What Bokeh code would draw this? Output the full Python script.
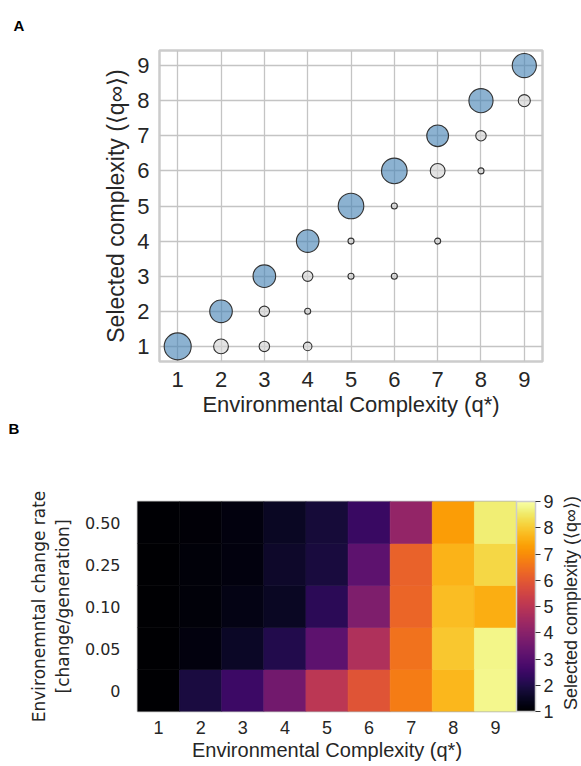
from bokeh.embed import file_html
from bokeh.layouts import row
from bokeh.models import (ColorBar, ColumnDataSource, Div, FixedTicker,
                          LinearColorMapper, Range1d, Title)
from bokeh.palettes import Inferno256
from bokeh.plotting import figure
from bokeh.resources import INLINE
from bokeh.transform import transform

# ---------------------------------------------------------------------------
# Panel A: distribution of the selected complexity for each environment
# ---------------------------------------------------------------------------
env_q = [1, 2, 2, 3, 3, 3, 4, 4, 4, 4, 5, 5, 5, 6, 6, 6, 7, 7, 7, 8, 8, 8, 9, 9]
sel_q = [1, 2, 1, 3, 2, 1, 4, 3, 2, 1, 5, 4, 3, 6, 5, 3, 7, 6, 4, 8, 7, 6, 9, 8]
freq = [1.0, 0.7, 0.3, 0.7, 0.15, 0.15, 0.7, 0.15, 0.05, 0.1, 0.9, 0.05, 0.05,
        0.9, 0.05, 0.05, 0.65, 0.3, 0.05, 0.8, 0.15, 0.05, 0.8, 0.2]

# ---------------------------------------------------------------------------
# Panel B: mean selected complexity vs. environmental complexity and change rate
# ---------------------------------------------------------------------------
q_star = [1, 2, 3, 4, 5, 6, 7, 8, 9]
rate_labels = ["0", "0.05", "0.10", "0.25", "0.50"]
mean_q_rate_0 = [1.0, 1.9, 2.5, 3.55, 5.0, 5.9, 6.7, 7.7, 8.8]
mean_q_rate_005 = [1.0, 1.2, 1.55, 2.05, 3.15, 4.75, 6.5, 7.95, 8.75]
mean_q_rate_010 = [1.0, 1.15, 1.3, 1.5, 2.2, 3.8, 6.25, 7.8, 7.55]
mean_q_rate_025 = [1.0, 1.15, 1.2, 1.6, 1.85, 3.15, 6.2, 7.65, 8.2]
mean_q_rate_050 = [1.05, 1.1, 1.2, 1.5, 1.8, 2.45, 4.2, 7.25, 8.6]

TEXT = "#262626"
SANS = "Liberation Sans"

# ----------------------------- panel A -------------------------------------
A_W, A_H = 581, 441
A_LEFT, A_RIGHT, A_TOP, A_BOTTOM = 159, 542, 50, 361

pa = figure(width=A_W, height=A_H, output_backend="svg", toolbar_location=None,
            x_range=Range1d(0.58, 9.42), y_range=Range1d(0.57, 9.43),
            min_border_left=A_LEFT, min_border_right=A_W - A_RIGHT,
            min_border_top=A_TOP, min_border_bottom=A_H - A_BOTTOM)
pa.outline_line_color = "#cccccc"
pa.outline_line_width = 2.5

# panel letter "A" sits in the title slot, pushed to the left page edge
pa.title.text = "A"
pa.title.text_font = SANS
pa.title.text_font_size = "15px"
pa.title.text_font_style = "bold"
pa.title.text_color = "black"
pa.title.align = "left"
pa.title.offset = 13 - A_LEFT
pa.title.vertical_align = "top"
pa.title.standoff = 30

ticks = list(range(1, 10))
for g in (pa.xgrid, pa.ygrid):
    g.ticker = FixedTicker(ticks=ticks)
    g.grid_line_color = "#c4c4c4"
    g.grid_line_width = 1.3
for ax in (pa.xaxis, pa.yaxis):
    ax.ticker = FixedTicker(ticks=ticks)
    ax.axis_line_color = None
    ax.major_tick_line_color = None
    ax.minor_tick_line_color = None
    ax.major_tick_out = 0
    ax.major_tick_in = 0
    ax.major_label_standoff = 10
    ax.major_label_text_font = SANS
    ax.major_label_text_font_size = "22px"
    ax.major_label_text_color = TEXT
    ax.axis_label_text_font = SANS
    ax.axis_label_text_font_style = "normal"
    ax.axis_label_text_color = TEXT
    ax.axis_label_standoff = 2
pa.xaxis.axis_label = "Environmental Complexity (q*)"
pa.xaxis.axis_label_text_font_size = "22px"
pa.yaxis.axis_label = "Selected complexity (⟨q∞⟩)"
pa.yaxis.axis_label_text_font_size = "23px"
pa.yaxis.axis_label_standoff = 5

# the most frequent outcome of each environment is highlighted in blue
col_max = {}
for e, f in zip(env_q, freq):
    col_max[e] = max(col_max.get(e, 0.0), f)
is_mode = [f == col_max[e] for e, f in zip(env_q, freq)]
src_a = ColumnDataSource(dict(
    x=env_q, y=sel_q, freq=freq,
    size=[27 * f ** 0.5 for f in freq],
    fill=["steelblue" if m else "lightgray" for m in is_mode],
))
pa.scatter("x", "y", size="size", source=src_a, fill_color="fill",
           fill_alpha=0.62, line_color="#333333", line_width=1.1)

# panel letter "B" hangs below the x axis of the upper figure
pa.add_layout(Title(text="B", text_font=SANS, text_font_size="15px",
                    text_font_style="bold", text_color="black", align="left",
                    offset=8 - A_LEFT, vertical_align="top", standoff=0),
              "below")

# ----------------------------- panel B -------------------------------------
B_W, B_H = 561, 325
B_LEFT, B_RIGHT, B_TOP, B_BOTTOM = 137, 516, 60, 270
CAP_W = 581 - B_W

rows = [mean_q_rate_0, mean_q_rate_005, mean_q_rate_010,
        mean_q_rate_025, mean_q_rate_050]
cx, cy, cv = [], [], []
for r, vals in enumerate(rows):
    for q, v in zip(q_star, vals):
        cx.append(q)
        cy.append(r)
        cv.append(v)
src_b = ColumnDataSource(dict(x=cx, y=cy, v=cv))

mapper = LinearColorMapper(palette=Inferno256, low=1, high=9)

pb = figure(width=B_W, height=B_H, output_backend="svg", toolbar_location=None,
            x_range=Range1d(0.5, 9.5), y_range=Range1d(-0.5, 4.5),
            min_border_left=B_LEFT, min_border_right=B_W - B_RIGHT,
            min_border_top=B_TOP, min_border_bottom=B_H - B_BOTTOM)
pb.outline_line_color = "#b0b0b0"
pb.outline_line_width = 1.5
pb.xgrid.grid_line_color = None
pb.ygrid.grid_line_color = None

pb.rect("x", "y", width=1, height=1, source=src_b,
        fill_color=transform("v", mapper), line_color=transform("v", mapper),
        line_width=0.6)

for ax in (pb.xaxis, pb.yaxis):
    ax.axis_line_color = None
    ax.major_tick_line_color = None
    ax.minor_tick_line_color = None
    ax.major_tick_out = 0
    ax.major_tick_in = 0
    ax.major_label_text_color = TEXT
    ax.axis_label_text_font_style = "normal"
    ax.axis_label_text_color = TEXT
pb.xaxis.ticker = FixedTicker(ticks=q_star)
pb.xaxis.major_label_text_font = SANS
pb.xaxis.major_label_text_font_size = "18px"
pb.xaxis.major_label_standoff = 9
pb.xaxis.axis_label = "Environmental Complexity (q*)"
pb.xaxis.axis_label_text_font = SANS
pb.xaxis.axis_label_text_font_size = "20px"
pb.xaxis.axis_label_standoff = 2

pb.yaxis.ticker = FixedTicker(ticks=list(range(len(rate_labels))))
pb.yaxis.major_label_overrides = {i: t for i, t in enumerate(rate_labels)}
pb.yaxis.major_label_text_font = "DejaVu Sans"
pb.yaxis.major_label_text_font_size = "16px"
pb.yaxis.major_label_standoff = 17
pb.yaxis.axis_label = "Environemntal change rate\n[change/generation]"
pb.yaxis.axis_label_text_font = "DejaVu Sans"
pb.yaxis.axis_label_text_font_size = "17px"
pb.yaxis.axis_label_standoff = 9

cbar = ColorBar(color_mapper=mapper, ticker=FixedTicker(ticks=q_star),
                width=19, padding=0, margin=3,
                major_tick_in=0, major_tick_out=5,
                major_tick_line_color="#333333", major_tick_line_width=1.2,
                major_label_text_font=SANS, major_label_text_font_size="18px",
                major_label_text_color=TEXT, label_standoff=3,
                bar_line_color="#cccccc", bar_line_width=1.5,
                border_line_color=None, background_fill_alpha=0)
pb.add_layout(cbar, "right")

# colour bar caption, read from bottom to top
caption = Div(
    text="Selected complexity (⟨q∞⟩)", width=CAP_W, height=B_H,
    styles={
        "writing-mode": "vertical-rl",
        "text-orientation": "sideways",
        "transform": "rotate(180deg)",
        "text-align": "center",
        "white-space": "nowrap",
        "font-family": SANS,
        "font-size": "18px",
        "line-height": f"{CAP_W}px",
        "color": TEXT,
        "margin": "0",
        "padding": "0",
    },
)

open("out.html", "w").write(file_html([pa, row(pb, caption)], INLINE))
